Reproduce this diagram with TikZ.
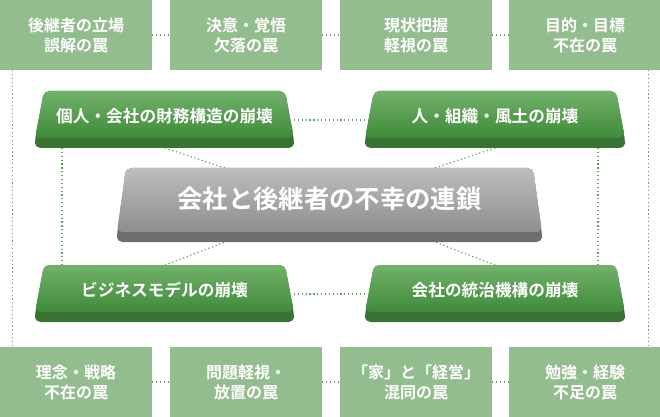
\documentclass[tikz,border=0pt]{standalone}
\usepackage{fontspec}
\setmainfont{Noto Sans CJK JP Bold}
\definecolor{trapgreen}{HTML}{93BD8E}
\definecolor{btntop}{HTML}{72B16A}
\definecolor{btnbot}{HTML}{3F8A3A}
\definecolor{btnband}{HTML}{3A7233}
\definecolor{graytop}{HTML}{BDBDBD}
\definecolor{graybot}{HTML}{8E8E8E}
\definecolor{grayband}{HTML}{6E6E6E}
\definecolor{dotgreen}{HTML}{5FA05A}
\tikzset{
  trap/.style={fill=trapgreen,text=white,align=center,font=\fontsize{12}{15}\selectfont,
    minimum width=114pt,minimum height=52.5pt,inner sep=0pt},
  link/.style={dotgreen,dotted,line width=0.9pt},
  lbl/.style={text=white,font=\fontsize{12.5}{15}\selectfont},
}
% bevelled button: x1,y1,x2,y2,colours
\newcommand{\btn}[7]{%
  \fill[#7,rounded corners=4pt] (#1,#4) -- (#1,#4-8) -- (#1+9,#2) -- (#3-9,#2) -- (#3,#4-8) -- (#3,#4) -- cycle;
  \shade[top color=#5,bottom color=#6,rounded corners=4pt] (#1,#4-10) -- (#1+9,#2) -- (#3-9,#2) -- (#3,#4-10) -- cycle;
}
\begin{document}
\begin{tikzpicture}[x=0.75pt,y=-0.75pt]
\useasboundingbox (0,0) rectangle (660,417);

% top row
\node[trap] (t1) at (76,35) {後継者の立場\\誤解の罠};
\node[trap] (t2) at (246,35) {決意・覚悟\\欠落の罠};
\node[trap] (t3) at (416,35) {現状把握\\軽視の罠};
\node[trap] (t4) at (585,35) {目的・目標\\不在の罠};

% bottom row
\node[trap] (b1) at (76,382) {理念・戦略\\不在の罠};
\node[trap] (b2) at (246,382) {問題軽視・\\放置の罠};
\node[trap] (b3) at (416,382) {「家」と「経営」\\混同の罠};
\node[trap] (b4) at (585,382) {勉強・経験\\不足の罠};

% buttons
\btn{35}{91}{294}{148}{btntop}{btnbot}{btnband}
\btn{365}{91}{625}{148}{btntop}{btnbot}{btnband}
\btn{35}{265}{294}{322}{btntop}{btnbot}{btnband}
\btn{365}{265}{625}{322}{btntop}{btnbot}{btnband}
\btn{117}{168}{542}{242}{graytop}{graybot}{grayband}

\node[lbl] (g1) at (164.5,116) {個人・会社の財務構造の崩壊};
\node[lbl] (g2) at (495,116) {人・組織・風土の崩壊};
\node[lbl] (g3) at (164.5,290) {ビジネスモデルの崩壊};
\node[lbl] (g4) at (495,290) {会社の統治機構の崩壊};
\node[text=white,font=\fontsize{19}{22}\selectfont] (core) at (329.5,199) {会社と後継者の不幸の連鎖};

% dotted links
\draw[link] (t1.east) -- (t2.west);
\draw[link] (t2.east) -- (t3.west);
\draw[link] (t3.east) -- (t4.west);
\draw[link] (b1.east) -- (b2.west);
\draw[link] (b2.east) -- (b3.west);
\draw[link] (b3.east) -- (b4.west);
\draw[link] (t1.south west) ++(13,0) coordinate (l1) -- (l1 |- b1.north);
\draw[link] (t4.south east) ++(-13,0) coordinate (r1) -- (r1 |- b4.north);
\draw[link] (294,120) -- (365,120);
\draw[link] (294,294) -- (365,294);
\draw[link] (62,148) -- (62,265);
\draw[link] (598,148) -- (598,265);
\draw[link] (165,148) -- (225,168);
\draw[link] (495,148) -- (435,168);
\draw[link] (165,265) -- (225,242);
\draw[link] (495,265) -- (435,242);
\end{tikzpicture}
\end{document}
